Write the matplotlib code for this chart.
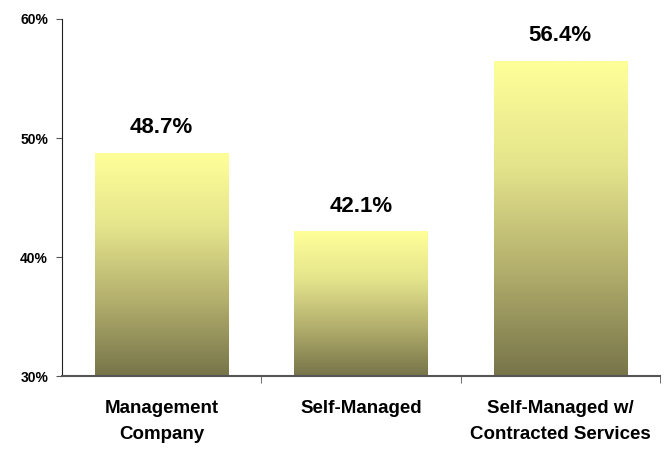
import matplotlib
matplotlib.use('Agg')
import matplotlib.pyplot as plt
import numpy as np
from matplotlib.colors import LinearSegmentedColormap
from matplotlib.ticker import FuncFormatter

# data
categories = ['Management\nCompany', 'Self-Managed', 'Self-Managed w/\nContracted Services']
values = [48.7, 42.1, 56.4]
yticks = [30, 40, 50, 60]

plt.rcParams['font.family'] = ['Liberation Sans', 'DejaVu Sans']

fig = plt.figure(figsize=(6.68, 4.5), dpi=100)
ax = fig.add_axes([0.0928, 0.1644, 0.8952, 0.7934])

x = np.arange(len(categories))
bars = ax.bar(x, values, width=0.67, bottom=0, color='none', edgecolor='none')

# gradient fill: light yellow at top, olive at bottom
cmap = LinearSegmentedColormap.from_list('olive', ['#77744a', '#b2ae6c', '#e4e48c', '#ffff99'])
grad = np.linspace(0, 1, 256).reshape(-1, 1)
for b in bars:
    x0, w, h = b.get_x(), b.get_width(), b.get_height()
    ax.imshow(grad, cmap=cmap, origin='lower', aspect='auto',
              extent=[x0, x0 + w, 30, h], zorder=2)

for xi, v in zip(x, values):
    ax.text(xi, v + 1.3, f'{v:.1f}%', ha='center', va='bottom',
            fontsize=16, fontweight='bold')

ax.set_xlim(-0.5, len(categories) - 0.5)
ax.set_ylim(30, 60)
ax.set_yticks(yticks)
ax.yaxis.set_major_formatter(FuncFormatter(lambda v, p: f'{v:.0f}%'))
for lab in ax.get_yticklabels():
    lab.set_fontweight('bold')
    lab.set_fontsize(10)

ax.set_xticks(x)
ax.set_xticklabels(categories, fontsize=13.5, fontweight='bold', linespacing=1.75)
ax.tick_params(axis='x', length=0, pad=17)
ax.set_xticks([0.5, 1.5, 2.5], minor=True)
ax.tick_params(axis='x', which='minor', length=5, color='#555555')
ax.tick_params(axis='y', length=4, color='#555555', pad=6)

for s in ['top', 'right']:
    ax.spines[s].set_visible(False)
ax.spines['left'].set_color('#222222')
ax.spines['bottom'].set_color('#555555')
ax.spines['bottom'].set_linewidth(1.5)

fig.savefig('out.png', dpi=100)
